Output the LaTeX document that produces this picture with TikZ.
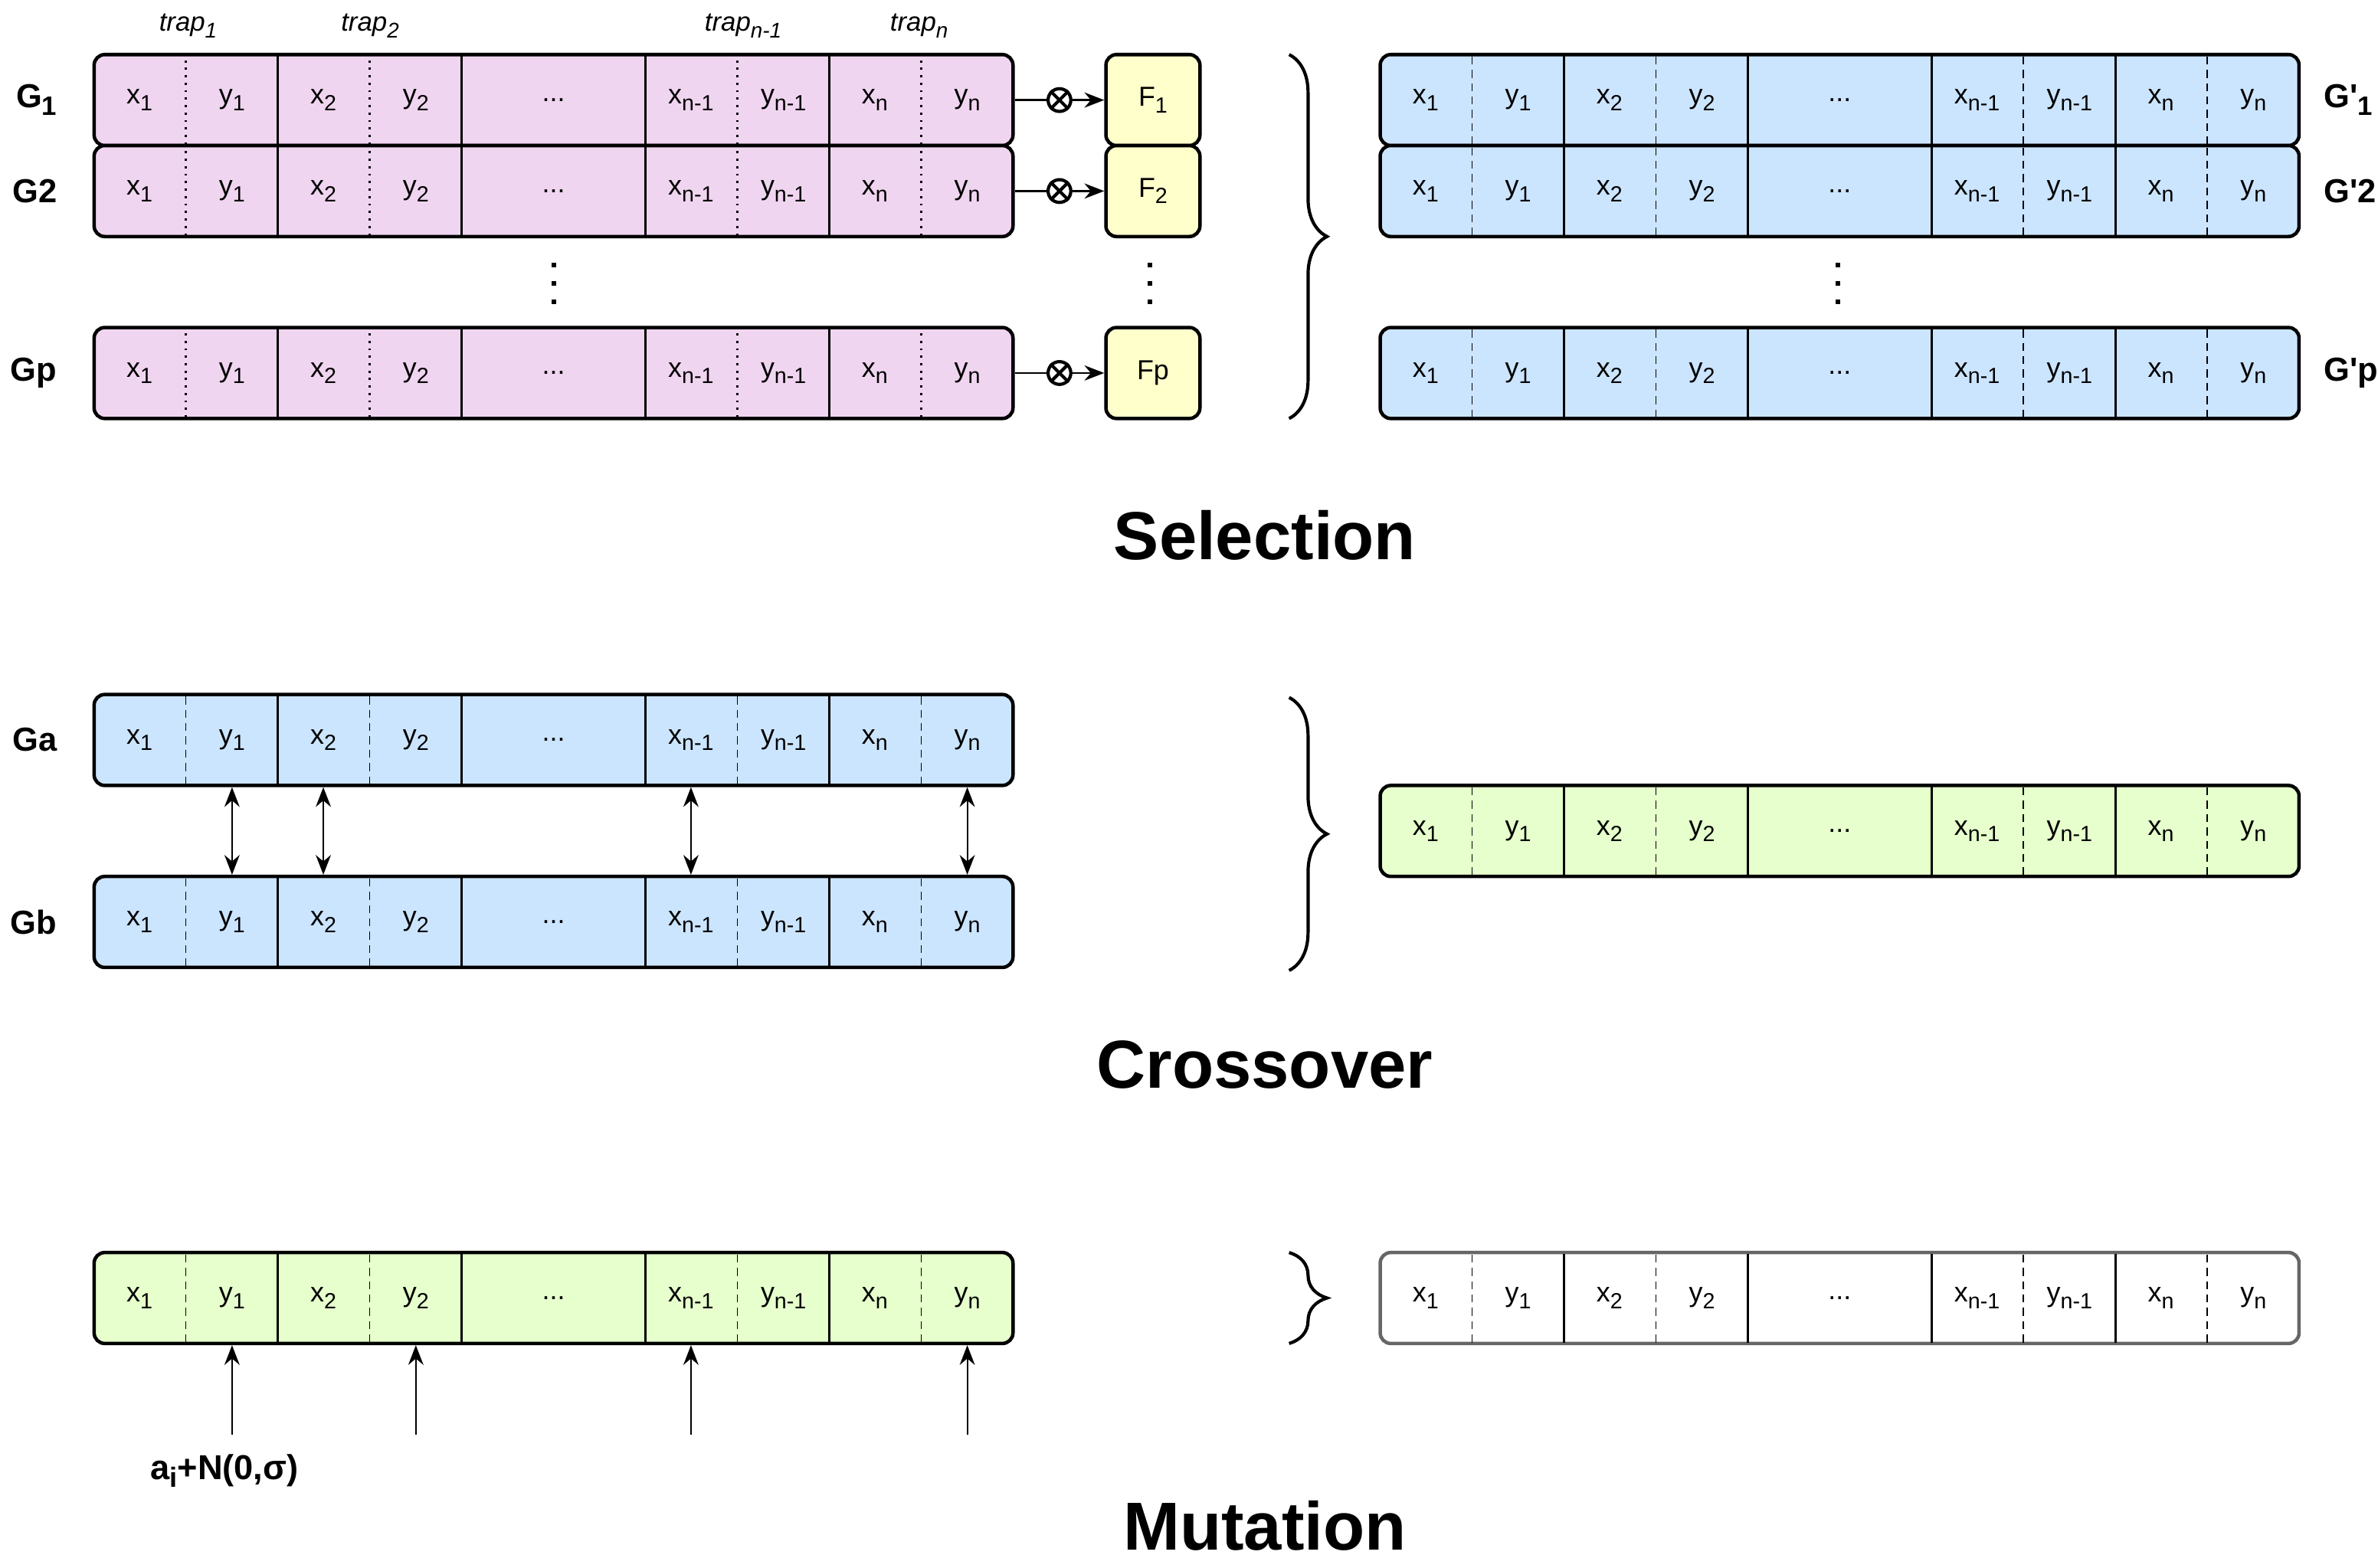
\documentclass[tikz,border=0pt]{standalone}
\usepackage{fontspec}
\setmainfont{Liberation Sans}
\usepackage{graphicx}
\usetikzlibrary{positioning,calc,arrows.meta,decorations.pathreplacing}
\definecolor{pinkc}{HTML}{F0D5F0}
\definecolor{bluec}{HTML}{CCE5FF}
\definecolor{greenc}{HTML}{E6FFCC}
\definecolor{yellowc}{HTML}{FFFFCC}
\definecolor{grayc}{HTML}{666666}
\newcommand\sbx[1]{\raisebox{-0.45ex}{\scalebox{0.8}{#1}}}

\begin{document}
\begin{tikzpicture}[x=0.02cm,y=0.02cm,line width=0.5pt,
  row/.style={rectangle,rounded corners=0.14cm,line width=1.3pt,minimum width=12.12cm,minimum height=1.2cm,inner sep=0pt},
  divpink/.style={dotted,line width=0.8pt},
  divblue/.style={densely dashed,line width=0.45pt},
  cell/.style={font=\fontsize{10.3}{12}\selectfont,inner sep=1pt},
  glbl/.style={font=\fontsize{12.5}{15}\selectfont\bfseries,inner sep=0pt},
  traplbl/.style={font=\fontsize{10}{12}\selectfont\itshape,inner sep=1pt},
  fbox/.style={rectangle,rounded corners=0.14cm,line width=1.3pt,draw,fill=yellowc,minimum width=1.24cm,minimum height=1.2cm,font=\fontsize{10.3}{12}\selectfont},
  otimes/.style={circle,draw,line width=1.2pt,minimum size=0.3cm,inner sep=0pt},
  title/.style={font=\fontsize{25.5}{30}\selectfont\bfseries},
  tip/.style={-{Stealth[length=2.6mm,width=2mm]},line width=0.6pt},
  dbltip/.style={{Stealth[length=2.6mm,width=2mm]}-{Stealth[length=2.6mm,width=2mm]},line width=0.6pt},
  brc/.style={decorate,decoration={brace,amplitude=0.5cm},line width=1.2pt}]
\path[use as bounding box] (0,0) rectangle (1568,1034);

% chromosome rows: name/left/centre/fill/border/divider
\foreach \r/\xx/\yy/\col/\bd/\dv in {g1/62/968/pinkc/black/divpink, g2/62/908/pinkc/black/divpink, gp/62/788/pinkc/black/divpink,
  h1/910/968/bluec/black/divblue, h2/910/908/bluec/black/divblue, hp/910/788/bluec/black/divblue,
  ga/62/546/bluec/black/divblue, gb/62/426/bluec/black/divblue, gc/910/486/greenc/black/divblue,
  gm/62/178/greenc/black/divblue, gw/910/178/white/grayc/divblue} {
  \node[row,fill=\col,draw=\bd] (\r) at ({\xx+303},\yy) {};
  \foreach \i in {1,2,3,4} {\draw[line width=0.9pt] ({\xx+121.2*\i},{\yy-29.3}) -- ({\xx+121.2*\i},{\yy+29.3});}
  \foreach \c/\s/\i in {1/1/0,2/2/1,m/n-1/3,n/n/4} {
    \draw[\dv] ({\xx+121.2*\i+60.6},{\yy-29.3}) -- ({\xx+121.2*\i+60.6},{\yy+29.3});
    \node[cell] (\r-x\c) at ({\xx+121.2*\i+30},\yy) {x\sbx{\s}};
    \node[cell] (\r-y\c) at ({\xx+121.2*\i+91},\yy) {y\sbx{\s}};
  }
  \node[cell] (\r-dots) at ({\xx+303},\yy) {...};
}

% row labels
\node[glbl,left=0.46cm of g1] (lg1) {G\sbx{1}};
\node[glbl,left=0.46cm of g2] (lg2) {G2};
\node[glbl,left=0.46cm of gp] (lgp) {Gp};
\node[glbl,left=0.46cm of ga] (lga) {Ga};
\node[glbl,left=0.46cm of gb] (lgb) {Gb};
\node[glbl,right=0.3cm of h1] (lh1) {G\textquotesingle\sbx{1}};
\node[glbl,right=0.3cm of h2] (lh2) {G\textquotesingle 2};
\node[glbl,right=0.3cm of hp] (lhp) {G\textquotesingle p};

% trap labels
\node[traplbl] (t1) at (124,1017) {trap\sbx{1}};
\node[traplbl] (t2) at (244,1017) {trap\sbx{2}};
\node[traplbl] (tm) at (490,1017) {trap\sbx{n-1}};
\node[traplbl] (tn) at (606,1017) {trap\sbx{n}};

% fitness
\foreach \r/\f/\txt in {g1/f1/{F\sbx{1}}, g2/f2/{F\sbx{2}}, gp/fp/Fp} {
  \node[fbox,right=1.18cm of \r] (\f) {\txt};
  \node[otimes] (o\f) at ($(\r.east)!0.5!(\f.west)$) {};
  \draw[line width=1.2pt] (o\f.45) -- (o\f.225) (o\f.135) -- (o\f.315);
  \draw[line width=0.8pt] (\r.east) -- (o\f);
  \draw[tip,line width=0.8pt] (o\f) -- (\f);
}

% vertical dots
\foreach \xd in {365,758,1212} {\foreach \yd in {859,847,835} {\fill ({\xd-1.5},{\yd-1.5}) rectangle ++(3,3);}}

% crossover
\foreach \c in {y1,x2,xm,yn} {\draw[dbltip] (ga-\c |- ga.south) -- (gb-\c |- gb.north);}

% mutation
\foreach \c in {y1,y2,xm,yn} {\coordinate (m\c) at (gm-\c |- 0,88); \draw[tip] (m\c) -- (gm-\c |- gm.south);}
\node[font=\fontsize{13}{15}\selectfont\bfseries] (noise) at (148,64) {a\sbx{i}+N(0,σ)};

% braces
\coordinate (b1t) at (850,998); \coordinate (b1b) at (850,758);
\coordinate (b2t) at (850,574); \coordinate (b2b) at (850,394);
\coordinate (b3t) at (850,208); \coordinate (b3b) at (850,148);
\draw[brc] (b1t) -- (b1b); \draw[brc] (b2t) -- (b2b); \draw[brc] (b3t) -- (b3b);

% titles
\node[title] (sel) at (834,681) {Selection};
\node[title] (cro) at (834,332) {Crossover};
\node[title] (mut) at (834,28) {Mutation};
\end{tikzpicture}
\end{document}
